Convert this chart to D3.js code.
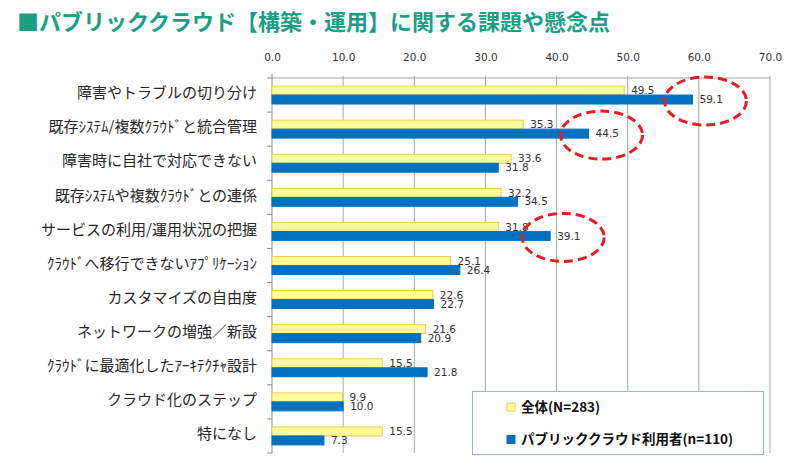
<!DOCTYPE html>
<html>
<head>
<meta charset="utf-8">
<script src="https://cdn.jsdelivr.net/npm/d3@7"></script>
<style>
  html, body { margin: 0; padding: 0; background: #fff; }
  svg { display: block; }
</style>
</head>
<body>
<svg id="chart" width="800" height="467"></svg>
<script>
  const titleText = '■パブリッククラウド【構築・運用】に関する課題や懸念点';

  const categories = [
    '障害やトラブルの切り分け',
    '既存ｼｽﾃﾑ/複数ｸﾗｳﾄﾞと統合管理',
    '障害時に自社で対応できない',
    '既存ｼｽﾃﾑや複数ｸﾗｳﾄﾞとの連係',
    'サービスの利用/運用状況の把握',
    'ｸﾗｳﾄﾞへ移行できないｱﾌﾟﾘｹｰｼｮﾝ',
    'カスタマイズの自由度',
    'ネットワークの増強／新設',
    'ｸﾗｳﾄﾞに最適化したｱｰｷﾃｸﾁｬ設計',
    'クラウド化のステップ',
    '特になし'
  ];

  const seriesNames = ['全体(N=283)', 'パブリッククラウド利用者(n=110)'];
  const allValues = [49.5, 35.3, 33.6, 32.2, 31.8, 25.1, 22.6, 21.6, 15.5, 9.9, 15.5];
  const publicValues = [59.1, 44.5, 31.8, 34.5, 39.1, 26.4, 22.7, 20.9, 21.8, 10.0, 7.3];
  const xTicks = [0, 10, 20, 30, 40, 50, 60, 70];

  // categories circled in red on the original slide
  const highlighted = ['障害やトラブルの切り分け', '既存ｼｽﾃﾑ/複数ｸﾗｳﾄﾞと統合管理', 'サービスの利用/運用状況の把握'];

  const fills = ['#ffff99', '#0070c0'];
  const strokes = ['#f2c94c', '#0070c0'];

  const margin = {top: 78, right: 30, bottom: 14, left: 272};
  const width = 800, height = 467;

  const svg = d3.select('#chart');

  const x = d3.scaleLinear()
    .domain([0, 70])
    .range([margin.left, width - margin.right]);

  const y0 = d3.scaleBand()
    .domain(categories)
    .range([margin.top, height - margin.bottom]);

  const y1 = d3.scaleBand()
    .domain(d3.range(seriesNames.length))
    .range([0, y0.bandwidth()])
    .paddingOuter(0.9);

  const rows = categories.map((c, i) => ({
    name: c,
    values: [allValues[i], publicValues[i]]
  }));

  // title
  svg.append('text')
    .attr('x', 17)
    .attr('y', 30)
    .attr('font-family', '"Noto Sans CJK JP", sans-serif')
    .attr('font-weight', 'bold')
    .attr('font-size', 22)
    .attr('fill', '#1a9e84')
    .text(titleText);

  // grid lines
  svg.append('g')
    .selectAll('line')
    .data(xTicks.slice(1))
    .enter().append('line')
    .attr('x1', d => x(d))
    .attr('x2', d => x(d))
    .attr('y1', margin.top - 2)
    .attr('y2', height - margin.bottom)
    .attr('stroke', '#a6a6a6')
    .attr('stroke-width', 1);

  // top border
  svg.append('line')
    .attr('x1', x(0))
    .attr('x2', x(70))
    .attr('y1', margin.top)
    .attr('y2', margin.top)
    .attr('stroke', '#a6a6a6');

  // top axis labels
  const xAxis = g => g
    .attr('transform', `translate(0,${margin.top})`)
    .call(d3.axisTop(x).tickValues(xTicks).tickFormat(d3.format('.1f')).tickSize(0).tickPadding(17))
    .call(g => g.select('.domain').remove())
    .call(g => g.selectAll('text')
      .attr('font-family', '"DejaVu Sans", sans-serif')
      .attr('font-size', 10.5)
      .attr('fill', '#333'));

  svg.append('g').call(xAxis);

  // left axis line with boundary ticks
  const boundaries = categories.map(c => y0(c)).concat([y0.range()[1]]);
  const yAxis = svg.append('g');
  yAxis.append('line')
    .attr('x1', x(0)).attr('x2', x(0))
    .attr('y1', margin.top - 4)
    .attr('y2', height - margin.bottom)
    .attr('stroke', '#8c8c8c');
  yAxis.selectAll('.tick')
    .data(boundaries)
    .enter().append('line')
    .attr('x1', x(0) - 5).attr('x2', x(0))
    .attr('y1', d => d).attr('y2', d => d)
    .attr('stroke', '#8c8c8c');

  // category labels
  svg.append('g')
    .selectAll('text')
    .data(categories)
    .enter().append('text')
    .attr('x', 257)
    .attr('y', d => y0(d) + y0.bandwidth() / 2 - 2)
    .attr('dy', '0.35em')
    .attr('text-anchor', 'end')
    .attr('font-family', '"Noto Sans CJK JP", sans-serif')
    .attr('font-size', 15)
    .attr('fill', '#262626')
    .text(d => d);

  // bars
  const groups = svg.append('g')
    .selectAll('g')
    .data(rows)
    .enter().append('g')
    .attr('transform', d => `translate(0,${y0(d.name)})`);

  groups.selectAll('rect')
    .data(d => d.values)
    .enter().append('rect')
    .attr('x', x(0))
    .attr('y', (d, i) => y1(i))
    .attr('width', d => x(d) - x(0))
    .attr('height', y1.bandwidth())
    .attr('fill', (d, i) => fills[i])
    .attr('stroke', (d, i) => strokes[i])
    .attr('stroke-width', 1);

  groups.selectAll('text')
    .data(d => d.values)
    .enter().append('text')
    .attr('x', d => x(d) + 7)
    .attr('y', (d, i) => y1(i) + y1.bandwidth() / 2)
    .attr('dy', '0.35em')
    .attr('font-family', '"DejaVu Sans", sans-serif')
    .attr('font-size', 10.5)
    .attr('fill', '#333')
    .text(d => d.toFixed(1));

  // red dashed ellipses
  svg.append('g')
    .selectAll('ellipse')
    .data(rows.filter(r => highlighted.includes(r.name)))
    .enter().append('ellipse')
    .attr('cx', d => x(d.values[1]) + 13)
    .attr('cy', d => y0(d.name) + y1(1) + y1.bandwidth() / 2 + 1.5)
    .attr('rx', 41)
    .attr('ry', 24)
    .attr('fill', 'none')
    .attr('stroke', '#e51c23')
    .attr('stroke-width', 3)
    .attr('stroke-dasharray', '9,5');

  // legend
  const legend = svg.append('g');
  legend.append('rect')
    .attr('x', 472.5)
    .attr('y', 391.5)
    .attr('width', 291)
    .attr('height', 63)
    .attr('fill', '#fff')
    .attr('stroke', '#95b3d7');

  const items = legend.selectAll('g')
    .data(seriesNames)
    .enter().append('g')
    .attr('transform', (d, i) => `translate(507,${407 + i * 32.5})`);

  items.append('rect')
    .attr('x', 0)
    .attr('y', -4)
    .attr('width', 8)
    .attr('height', 8)
    .attr('fill', (d, i) => fills[i])
    .attr('stroke', (d, i) => strokes[i]);

  items.append('text')
    .attr('x', 14)
    .attr('y', 0)
    .attr('dy', '0.35em')
    .attr('font-family', '"Noto Sans CJK JP", sans-serif')
    .attr('font-weight', 'bold')
    .attr('font-size', 13.5)
    .attr('fill', '#111')
    .text(d => d);
</script>
</body>
</html>
